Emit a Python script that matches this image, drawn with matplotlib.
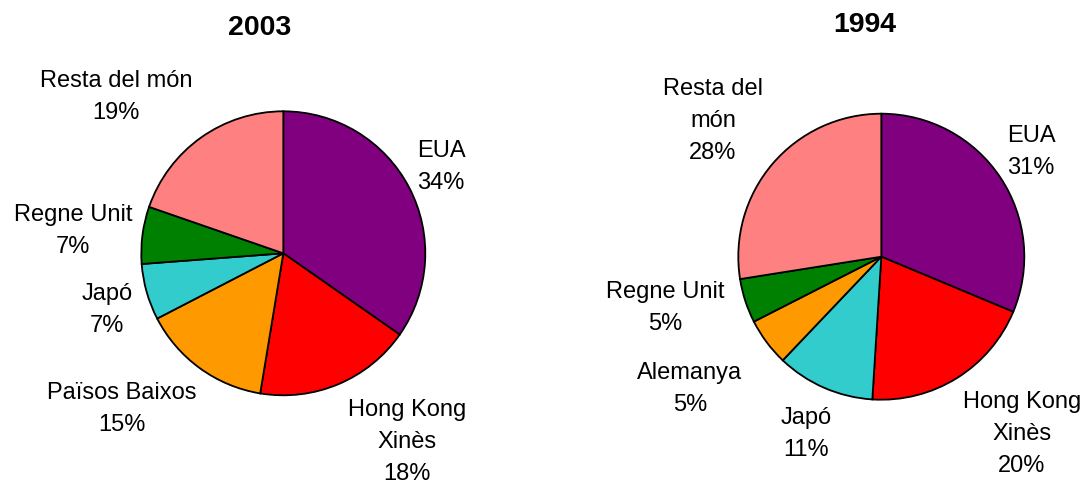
import matplotlib.pyplot as plt

# Exportacions per destinació (%)
labels_2003 = ["EUA", "Hong Kong\nXinès", "Països Baixos", "Japó", "Regne Unit", "Resta del món"]
values_2003 = [34.7, 17.9, 14.8, 6.4, 6.5, 19.7]
pct_2003 = ["34%", "18%", "15%", "7%", "7%", "19%"]
colors_2003 = ["#800080", "#FF0000", "#FF9900", "#33CCCC", "#008000", "#FF8080"]

labels_1994 = ["EUA", "Hong Kong\nXinès", "Japó", "Alemanya", "Regne Unit", "Resta del\nmón"]
values_1994 = [31.3, 19.7, 11.1, 5.4, 5.0, 27.5]
pct_1994 = ["31%", "20%", "11%", "5%", "5%", "28%"]
colors_1994 = ["#800080", "#FF0000", "#33CCCC", "#FF9900", "#008000", "#FF8080"]

plt.rcParams['font.family'] = ['Liberation Sans', 'DejaVu Sans']

W, H = 1088, 484
fig = plt.figure(figsize=(W / 100, H / 100), dpi=100)
ax = fig.add_axes([0, 0, 1, 1])


def draw_pie(values, colors, labels, pcts, center, radius, label_pos, title, title_pos):
    ax.pie(values, colors=colors, center=center, radius=radius,
           startangle=90, counterclock=False, frame=True,
           wedgeprops=dict(edgecolor='black', linewidth=1.3))
    for lab, p, (x, y) in zip(labels, pcts, label_pos):
        ax.text(x, H - y, f"{lab}\n{p}", ha='center', va='center',
                fontsize=17, linespacing=1.6)
    ax.text(title_pos[0], H - title_pos[1], title, ha='center', va='center',
            fontsize=20.5, fontweight='bold')


# posicions de les etiquetes (píxels, des de dalt)
pos_2003 = [(441, 167), (407, 442), (122, 409), (107, 310), (73, 231), (116, 97)]
pos_1994 = [(1031, 152), (1022, 434), (806, 434), (690, 389), (665, 308), (713, 121)]

draw_pie(values_2003, colors_2003, labels_2003, pct_2003, (283.3, H - 253.3), 142,
         pos_2003, "2003", (260, 28))
draw_pie(values_1994, colors_1994, labels_1994, pct_1994, (881.3, H - 256.7), 143,
         pos_1994, "1994", (865, 25))

ax.set_xlim(0, W)
ax.set_ylim(0, H)
ax.set_aspect('equal')
ax.axis('off')

fig.savefig("out.png", dpi=100)
